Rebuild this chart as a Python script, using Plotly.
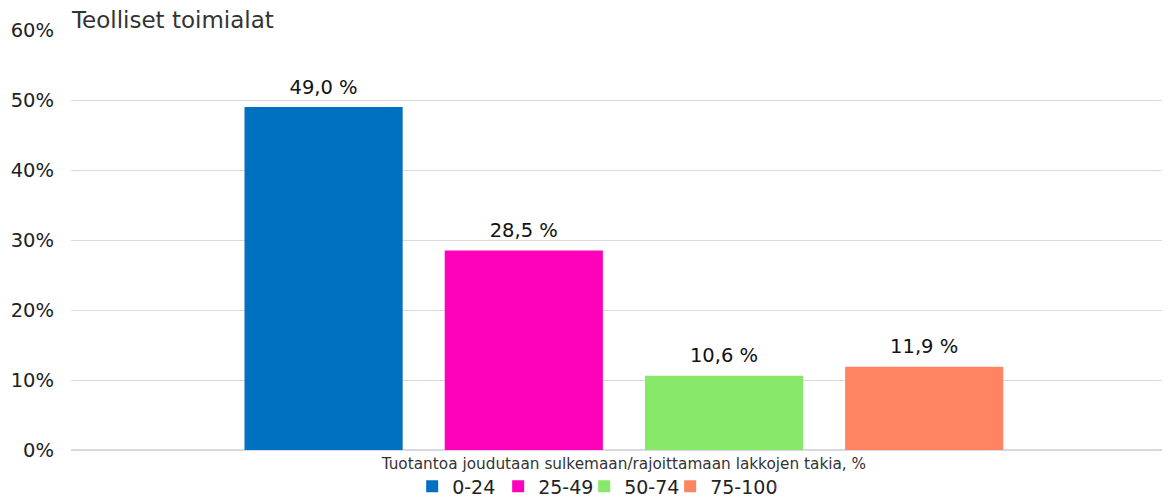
import plotly.graph_objects as go

# data
category = ["Tuotantoa joudutaan sulkemaan/rajoittamaan lakkojen takia, %"]
groups = ["0-24", "25-49", "50-74", "75-100"]
values = [49.0, 28.5, 10.6, 11.9]
colors = ["#0070C0", "#FF00BB", "#88E86A", "#FF845F"]

FONT = "Verdana, DejaVu Sans, sans-serif"

fig = go.Figure()
for name, val, col in zip(groups, values, colors):
    fig.add_trace(go.Bar(x=category, y=[val / 100], name=name, offsetgroup=name,
                         marker=dict(color=col, line=dict(width=0))))
# value labels, as invisible markers aligned with the bars
for name, val in zip(groups, values):
    label = f"{val:.1f} %".replace(".", ",")
    fig.add_trace(go.Scatter(x=category, y=[val / 100], offsetgroup=name,
                             mode="markers+text", text=[label], textposition="top center",
                             marker=dict(size=12, opacity=0), showlegend=False,
                             hoverinfo="skip", cliponaxis=False,
                             textfont=dict(size=19.5, color="#111111", family=FONT)))
# empty legend slot so the last (longer) legend label is not clipped
fig.add_trace(go.Scatter(x=[None], y=[None], name=" ", mode="markers",
                         marker=dict(opacity=0), hoverinfo="skip"))

fig.update_layout(
    width=1162, height=492,
    paper_bgcolor="white", plot_bgcolor="white",
    font=dict(family=FONT, color="#222222"),
    title=dict(text="Teolliset toimialat", x=0.055, xref="container", xanchor="left",
               y=0.976, yref="container", yanchor="middle",
               font=dict(size=23, color="#333333", family=FONT)),
    barmode="group", bargap=0.27, bargroupgap=0.21,
    scattermode="group", scattergap=0.27,
    margin=dict(l=63, r=2, t=22, b=50, autoexpand=False),
    showlegend=True,
    legend=dict(orientation="h", x=0.311, xanchor="left", y=-0.0864, yanchor="middle",
                bgcolor="rgba(0,0,0,0)",
                font=dict(size=19, color="#222222"), itemwidth=30,
                entrywidth=41, traceorder="normal", tracegroupgap=0),
    xaxis=dict(showgrid=False, showline=False, ticks="", ticklabelstandoff=3,
               tickfont=dict(size=15.3, color="#333333"), range=[-0.504, 0.496]),
    yaxis=dict(range=[0, 0.6], dtick=0.1, tickformat=".0%",
               gridcolor="#D9D9E3", gridwidth=1, zeroline=True, zerolinecolor="#D9D9E3",
               showline=False, ticks="", ticklabelstandoff=16,
               tickfont=dict(size=19.5, color="#222222")),
)

fig.write_html("out.html")
